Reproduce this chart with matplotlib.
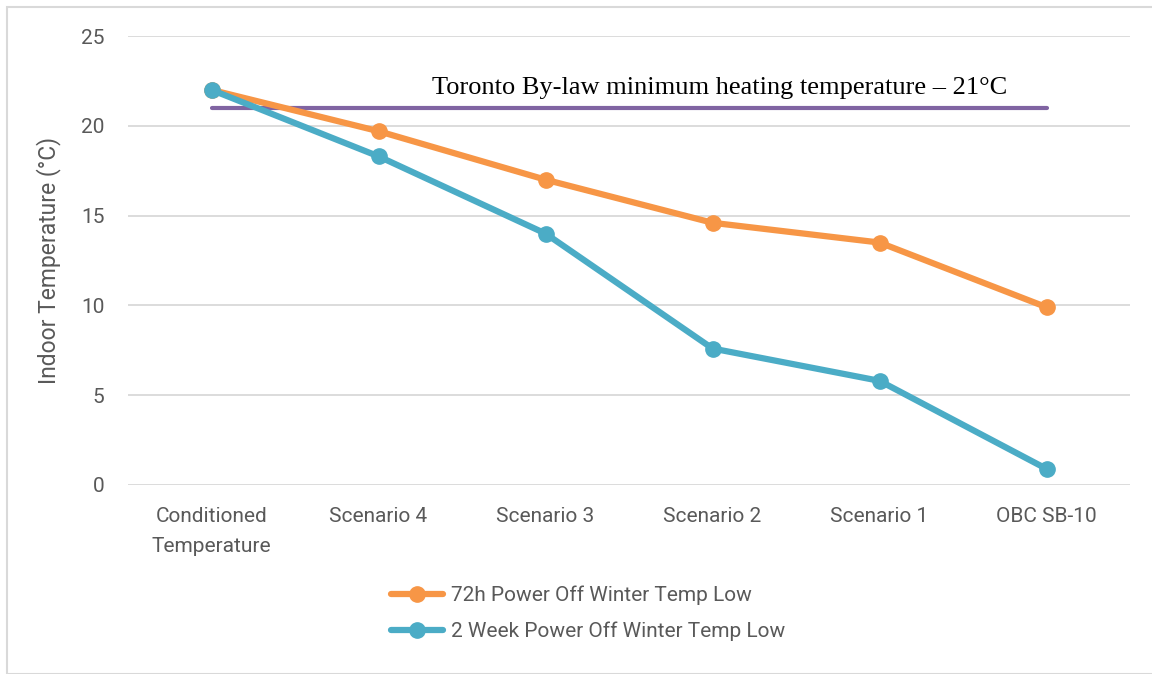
import numpy as np
import matplotlib.pyplot as plt
from matplotlib.patches import Rectangle

plt.rcParams['font.family'] = ['Roboto', 'DejaVu Sans']

# 数据
categories = ['Conditioned\nTemperature', 'Scenario 4', 'Scenario 3',
              'Scenario 2', 'Scenario 1', 'OBC SB-10']
temp_72h = [22, 19.7, 17, 14.6, 13.5, 9.9]
temp_2wk = [22, 18.3, 14, 7.6, 5.8, 0.9]
bylaw_min = 21
yticks = [0, 5, 10, 15, 20, 25]

grey = '#595959'
fig = plt.figure(figsize=(11.52, 6.74), dpi=100)
ax = fig.add_axes([128/1152, 1-485/674, 1002/1152, 449/674])

x = np.arange(len(categories))
ax.plot(x, [bylaw_min]*len(x), color='#8064A2', lw=3, solid_capstyle='round', zorder=2)
ax.plot(x, temp_72h, color='#F79646', lw=4.5, marker='o', ms=11,
        solid_capstyle='round', label='72h Power Off Winter Temp Low', zorder=3)
ax.plot(x, temp_2wk, color='#4BACC6', lw=4.5, marker='o', ms=11,
        solid_capstyle='round', label='2 Week Power Off Winter Temp Low', zorder=3)

ax.text(3.04, 22.1, 'Toronto By-law minimum heating temperature \u2013 21\u00b0C',
        family='Liberation Serif', fontsize=19, ha='center', va='center', color='black')

ax.set_xlim(-0.5, 5.5)
ax.set_ylim(0, 25)
ax.set_xticks(x)
ax.set_xticklabels(categories, fontsize=15, color=grey, linespacing=1.7)
ax.set_yticks(yticks)
ax.set_yticklabels([str(v) for v in yticks], fontsize=15, color=grey)
ax.tick_params(length=0)
ax.tick_params(axis='x', pad=16)
ax.tick_params(axis='y', pad=17)
ax.grid(axis='y', color='#D9D9D9', lw=1.3)
ax.set_axisbelow(True)
for s in ax.spines.values():
    s.set_visible(False)
ax.set_ylabel('Indoor Temperature (\u00b0C)', fontsize=16.5, color=grey, labelpad=14)

leg = ax.legend(loc='upper left', bbox_to_anchor=(372/1152, 1-567/674),
                bbox_transform=fig.transFigure, frameon=False, fontsize=15,
                handlelength=2.5, handletextpad=0.4, labelspacing=0.8)
for t in leg.get_texts():
    t.set_color(grey)

fig.patches.append(Rectangle((7/1152, 0), 1.5, 1-7/674, transform=fig.transFigure,
                             fill=False, ec='#D9D9D9', lw=1.5))

plt.savefig('out.png', dpi=100)
